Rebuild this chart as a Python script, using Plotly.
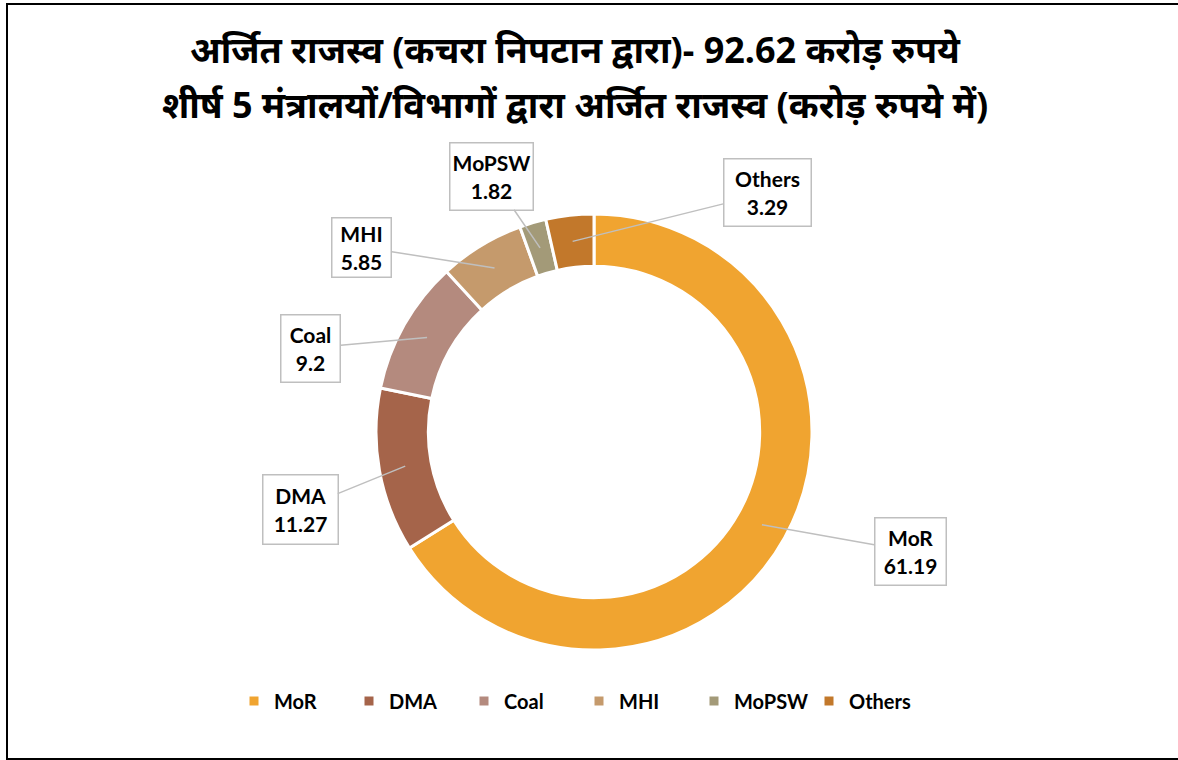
import math
import plotly.graph_objects as go

# ---------------- Data ----------------

labels = ["MoR", "DMA", "Coal", "MHI", "MoPSW", "Others"]
values = [61.19, 11.27, 9.2, 5.85, 1.82, 3.29]
colors = ["#F0A430", "#A5644A", "#B48A7E", "#C59A6C", "#A39A78", "#C2782B"]

title_line1 = "अर्जित राजस्व (कचरा निपटान द्वारा)- 92.62 करोड़ रुपये"
title_line2 = "शीर्ष 5 मंत्रालयों/विभागों द्वारा अर्जित राजस्व (करोड़ रुपये में)"

# callout box centres (pixels) and sizes
box_centres = [(910, 551), (300, 509), (311, 348), (362, 247), (491, 176), (767, 193)]
box_sizes = [(68, 64), (72, 66), (56, 64), (56, 56), (80, 64), (84, 64)]

# ---------------- Geometry ----------------

W, H = 1178, 760
cx, cy, R = 594, 432, 218
HOLE = 0.76

FONT = "Lato, 'Open Sans', sans-serif"

fig = go.Figure()

fig.add_trace(
    go.Pie(
        labels=labels,
        values=values,
        hole=HOLE,
        sort=False,
        direction="clockwise",
        rotation=0,
        marker=dict(colors=colors, line=dict(color="white", width=3)),
        textinfo="none",
        hoverinfo="label+value",
        domain=dict(
            x=[(cx - R) / W, (cx + R) / W],
            y=[1 - (cy + R) / H, 1 - (cy - R) / H],
        ),
    )
)

# ---------------- Callouts ----------------

total = sum(values)
cum = 0
r_tip = R * 0.88
for lab, val, (bx, by), (bw, bh) in zip(labels, values, box_centres, box_sizes):
    mid = (cum + val / 2) / total * 2 * math.pi
    cum += val
    tx = cx + r_tip * math.sin(mid)
    ty = cy - r_tip * math.cos(mid)
    fig.add_annotation(
        x=tx / W,
        y=1 - ty / H,
        xref="paper",
        yref="paper",
        ax=bx - tx,
        ay=by - ty,
        text=f"<b>{lab}<br>{val:g}</b>",
        showarrow=True,
        arrowhead=0,
        arrowwidth=1.5,
        arrowcolor="#BFBFBF",
        bgcolor="white",
        bordercolor="#BFBFBF",
        borderwidth=1.5,
        width=bw,
        height=bh,
        font=dict(family=FONT, size=21, color="black"),
    )

# ---------------- Title ----------------

TITLE_FONT = dict(family="'Noto Sans', sans-serif", size=36, color="black")

fig.add_annotation(
    x=575 / W, y=1 - 23 / H, xref="paper", yref="paper",
    text=f"<b>{title_line1}</b>", showarrow=False, font=TITLE_FONT,
)
fig.add_annotation(
    x=575 / W, y=1 - 78 / H, xref="paper", yref="paper",
    text=f"<b>{title_line2}</b>", showarrow=False, font=TITLE_FONT,
)

# ---------------- Border ----------------

fig.add_shape(
    type="rect", xref="paper", yref="paper",
    x0=7 / W, x1=1.01, y0=1 - 759 / H, y1=1 - 4 / H,
    line=dict(color="black", width=2),
)

fig.update_layout(
    width=W,
    height=H,
    margin=dict(l=0, r=0, t=0, b=0),
    paper_bgcolor="white",
    plot_bgcolor="white",
    showlegend=True,
    legend=dict(
        orientation="h",
        x=(589 - 10) / W,
        xanchor="center",
        y=1 - 701 / H,
        yanchor="middle",
        font=dict(family=FONT, size=20, color="black", weight="bold"),
        entrywidth=70,
        traceorder="normal",
    ),
)

fig.write_html(
    "out.html",
    config={"displayModeBar": False},
    post_script="document.body.style.margin='0';",
)
